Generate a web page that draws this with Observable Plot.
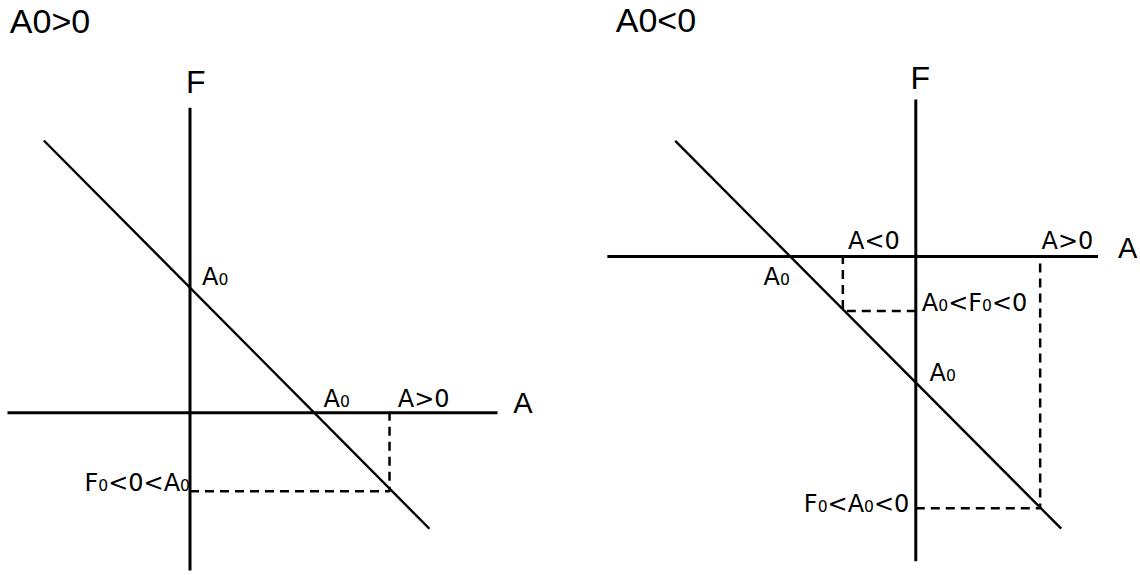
<!DOCTYPE html>
<html><head><meta charset="utf-8">
<script src="https://cdn.jsdelivr.net/npm/d3@7"></script>
<script src="https://cdn.jsdelivr.net/npm/@observablehq/plot@0.6"></script>
<style>
html,body{margin:0;padding:0;background:#fff;}
#wrap{position:relative;width:1140px;height:575px;overflow:hidden;background:#fff;}
#wrap svg{position:absolute;top:0;}
</style></head><body><div id="wrap"></div>
<script>
// ---- Left panel: A0 > 0 (units: |A0| = 1) ----
const leftTitle = "A0>0";
const leftAxisA = [-1.472, 2.480];
const leftAxisF = [2.460, -1.272];
const leftLineA = [-1.179, 1.931];
const leftLineF = [2.196, -0.935];
const leftGuideA = [0, 1.609, 1.609];
const leftGuideF = [-0.632, -0.632, 0];
const leftLabels = ["A₀", "A₀", "A>0", "F₀<0<A₀"];
const leftLabelA = [0, 1, 1.609, 0];
const leftLabelF = [1, 0, 0, -0.632];

// ---- Right panel: A0 < 0 (units: |A0| = 1) ----
const rightTitle = "A0<0";
const rightAxisA = [-2.448, 1.446];
const rightAxisF = [1.246, -2.418];
const rightLineA = [-1.909, 1.154];
const rightLineF = [0.917, -2.160];
const rightGuide1A = [0, -0.579, -0.579];
const rightGuide1F = [-0.433, -0.433, 0];
const rightGuide2A = [0, 0.987, 0.987];
const rightGuide2F = [-1.998, -1.998, 0];
const rightLabels = ["A<0", "A>0", "A₀", "A₀", "A₀<F₀<0", "F₀<A₀<0"];
const rightLabelA = [-0.579, 0.987, -1, 0, 0, 0];
const rightLabelF = [0, 0, 0, -1, -0.433, -1.998];

const axisNames = ["A", "F"];

const H = 575;
const LABEL_FONT = "DejaVu Sans";
const TITLE_FONT = "Liberation Sans";

function pts(as, fs) { return as.map((a, i) => ({a, f: fs[i]})); }

function panel(cfg) {
  const {width, ox, oy, unit, title, titleX, titleY, axisA, axisF, lineA, lineF,
         guides, labels, labelA, labelF, layout, nameLayout} = cfg;
  const marks = [];
  // axes
  marks.push(Plot.line(pts(axisA, [0, 0]), {x: "a", y: "f", stroke: "#000", strokeWidth: 3, strokeLinecap: "butt"}));
  marks.push(Plot.line(pts([0, 0], axisF), {x: "a", y: "f", stroke: "#000", strokeWidth: 3, strokeLinecap: "butt"}));
  // dashed guides
  for (const g of guides) {
    marks.push(Plot.line(pts(g[0], g[1]), {x: "a", y: "f", stroke: "#000", strokeWidth: 2.5, strokeDasharray: "9,6", strokeLinecap: "butt", strokeLinejoin: "miter"}));
  }
  // the line F = A0 - A
  marks.push(Plot.line(pts(lineA, lineF), {x: "a", y: "f", stroke: "#000", strokeWidth: 2.4, strokeLinecap: "butt"}));
  // labels
  labels.forEach((t, i) => {
    const L = layout[i];
    marks.push(Plot.text([{a: labelA[i], f: labelF[i], t}], {
      x: "a", y: "f", text: "t", fontFamily: LABEL_FONT, fontSize: 24,
      textAnchor: L.anchor, lineAnchor: "bottom", dx: L.dx, dy: L.dy, fill: "#000"
    }));
  });
  // axis names
  const nameAt = [{a: axisA[1], f: 0}, {a: 0, f: axisF[0]}];
  axisNames.forEach((t, i) => {
    const L = nameLayout[i];
    marks.push(Plot.text([{...nameAt[i], t}], {
      x: "a", y: "f", text: "t", fontFamily: TITLE_FONT, fontSize: L.size,
      textAnchor: "start", lineAnchor: "bottom", dx: L.dx, dy: L.dy, fill: "#000"
    }));
  });
  // panel title
  marks.push(Plot.text([title], {
    frameAnchor: "top-left", text: d => d, fontFamily: TITLE_FONT, fontSize: 34,
    textAnchor: "start", lineAnchor: "bottom", dx: titleX, dy: titleY, fill: "#000"
  }));
  const svg = Plot.plot({
    width, height: H, margin: 0,
    x: {type: "linear", domain: [-ox / unit, (width - ox) / unit], range: [0, width], axis: null},
    y: {type: "linear", domain: [-(H - oy) / unit, oy / unit], range: [H, 0], axis: null},
    style: {background: "transparent", overflow: "visible"},
    marks
  });
  subscriptify(svg);
  return svg;
}

function subscriptify(svg) {
  d3.select(svg).selectAll("text").each(function () {
    const t = this.textContent;
    if (!t.includes("₀")) return;
    const sel = d3.select(this);
    sel.text(null);
    t.split(/(₀)/).forEach(part => {
      if (!part) return;
      if (part === "₀") sel.append("tspan").attr("font-size", "65%").text("0");
      else sel.append("tspan").text(part);
    });
  });
}

const wrap = document.getElementById("wrap");

const left = panel({
  width: 570, ox: 189.5, oy: 412.3, unit: 124,
  title: leftTitle, titleX: 9.3, titleY: 32,
  axisA: leftAxisA, axisF: leftAxisF, lineA: leftLineA, lineF: leftLineF,
  guides: [[leftGuideA, leftGuideF]],
  labels: leftLabels, labelA: leftLabelA, labelF: leftLabelF,
  layout: [
    {anchor: "start", dx: 12, dy: -4.3},
    {anchor: "start", dx: 9.5, dy: -5.6},
    {anchor: "start", dx: 8.3, dy: -5.6},
    {anchor: "end", dx: 0, dy: 0}
  ],
  nameLayout: [{size: 29, dx: 15.7, dy: 0.4}, {size: 32, dx: -4, dy: -14.3}]
});
left.style.left = "0px";
wrap.appendChild(left);

const right = panel({
  width: 570, ox: 345.3, oy: 256, unit: 126,
  title: rightTitle, titleX: 45.2, titleY: 31,
  axisA: rightAxisA, axisF: rightAxisF, lineA: rightLineA, lineF: rightLineF,
  guides: [[rightGuide1A, rightGuide1F], [rightGuide2A, rightGuide2F]],
  labels: rightLabels, labelA: rightLabelA, labelF: rightLabelF,
  layout: [
    {anchor: "start", dx: 5.2, dy: -8},
    {anchor: "start", dx: 1.3, dy: -8},
    {anchor: "end", dx: 0, dy: 28},
    {anchor: "start", dx: 13.7, dy: -2},
    {anchor: "start", dx: 6, dy: -0.5},
    {anchor: "end", dx: -6.4, dy: 4}
  ],
  nameLayout: [{size: 29, dx: 20, dy: 1}, {size: 32, dx: -5.2, dy: -11}]
});
right.style.left = "570px";
wrap.appendChild(right);
</script>
</body></html>
